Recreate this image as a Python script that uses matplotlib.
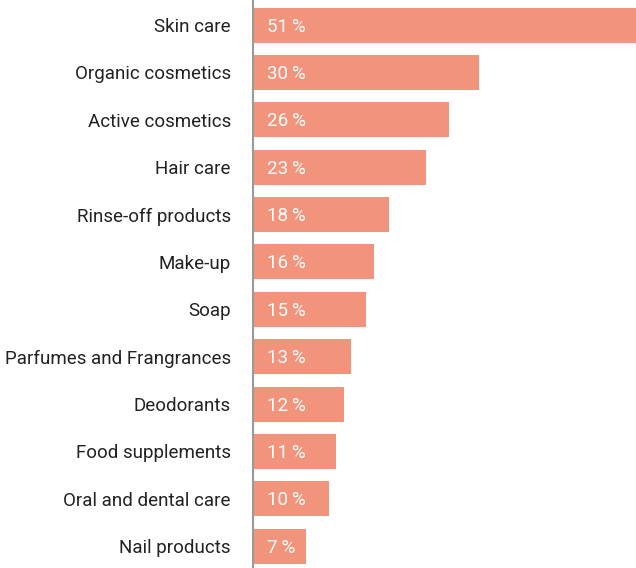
import matplotlib
matplotlib.use("Agg")
import matplotlib.pyplot as plt

categories = ["Skin care", "Organic cosmetics", "Active cosmetics", "Hair care",
              "Rinse-off products", "Make-up", "Soap", "Parfumes and Frangrances",
              "Deodorants", "Food supplements", "Oral and dental care", "Nail products"]
values = [51, 30, 26, 23, 18, 16, 15, 13, 12, 11, 10, 7]
value_labels = ["51\u2009%", "30\u2009%", "26\u2009%", "23\u2009%", "18\u2009%", "16\u2009%",
                "15\u2009%", "13\u2009%", "12\u2009%", "11\u2009%", "10\u2009%", "7\u2009%"]

plt.rcParams['font.family'] = ['Roboto', 'DejaVu Sans']

fig = plt.figure(figsize=(6.36, 5.68), dpi=100)
ax = fig.add_axes([253/636, 0, 1 - 253/636, 1])
y = list(range(len(categories)))
ax.barh(y, values, height=0.74, color="#F2937B", left=0.1)
ax.set_xlim(0, 51.1)
ax.set_ylim(11.46, -0.53)
for s in ["top", "right", "bottom"]:
    ax.spines[s].set_visible(False)
ax.spines["left"].set_color("#9a9a9a")
ax.spines["left"].set_linewidth(1.5)
ax.set_xticks([])
ax.set_yticks(y)
ax.set_yticklabels(categories, fontsize=13.5, color="#222222")
ax.tick_params(axis="y", length=0, pad=16)
for yi, lab in zip(y, value_labels):
    ax.text(1.85, yi + 0.03, lab, color="white", fontsize=13.5, va="center", ha="left")
fig.savefig("out.png", dpi=100)
